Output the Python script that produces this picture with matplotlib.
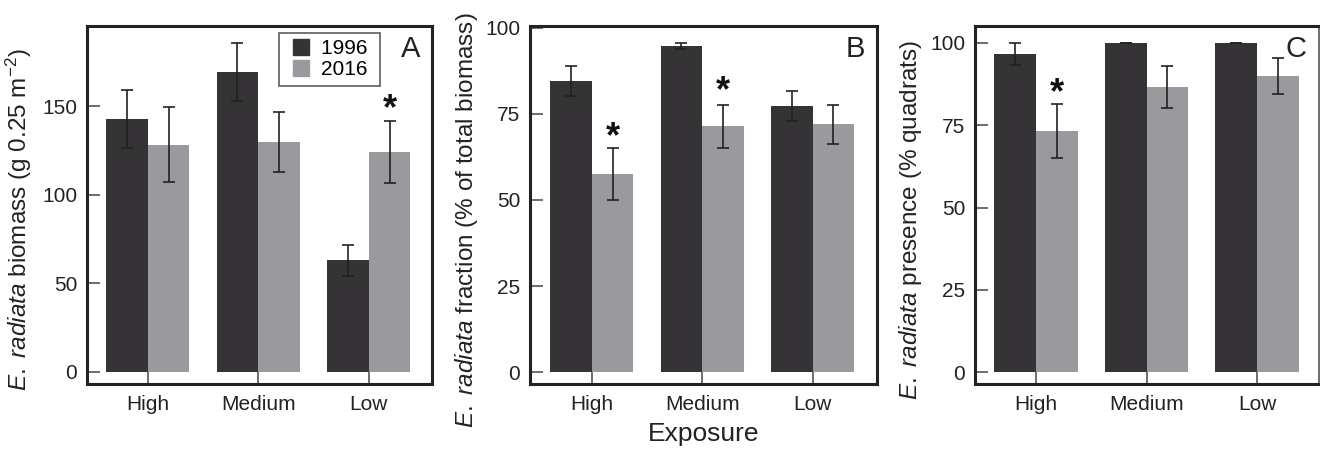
import matplotlib

matplotlib.use("Agg")
import matplotlib.pyplot as plt
import numpy as np
from matplotlib.lines import Line2D

plt.rcParams["font.family"] = ["Liberation Sans", "DejaVu Sans"]
plt.rcParams["mathtext.fontset"] = "custom"
plt.rcParams["mathtext.rm"] = "Liberation Sans"
plt.rcParams["mathtext.it"] = "Liberation Sans:italic"

CATEGORIES = ["High", "Medium", "Low"]
YEARS = ["1996", "2016"]

# Panel A: biomass (g 0.25 m-2)
biomass_1996 = [143, 169.5, 63]
biomass_1996_err = [16.5, 16.5, 9]
biomass_2016 = [128.5, 130, 124.3]
biomass_2016_err = [21, 17, 17.5]

# Panel B: fraction of total biomass (%)
fraction_1996 = [84.6, 94.7, 77.2]
fraction_1996_err = [4.3, 1.0, 4.3]
fraction_2016 = [57.5, 71.4, 72.0]
fraction_2016_err = [7.5, 6.2, 5.7]

# Panel C: presence (% quadrats)
presence_1996 = [96.6, 100, 100]
presence_1996_err = [3.3, 0, 0]
presence_2016 = [73.3, 86.6, 89.9]
presence_2016_err = [8.2, 6.3, 5.5]

DARK = "#363337"
LIGHT = "#9a999d"
W = 0.377

fig = plt.figure(figsize=(13.2, 4.5), dpi=100)

panels = [
    dict(rect=[87 / 1320, 0.1467, 345 / 1320, 0.7956], v1=biomass_1996, e1=biomass_1996_err,
         v2=biomass_2016, e2=biomass_2016_err, ylim=(-6.8, 195.5), yticks=[0, 50, 100, 150],
         ylabel=r"$\mathit{E.\ radiata}$ biomass (g 0.25 m$^{-2}$)", letter="A",
         stars=[(2, 0.5, 148)], xlim=(-0.55, 2.573), labx=-0.154),
    dict(rect=[530 / 1320, 0.1467, 346.7 / 1320, 0.7956], v1=fraction_1996, e1=fraction_1996_err,
         v2=fraction_2016, e2=fraction_2016_err, ylim=(-3.4, 100.5), yticks=[0, 25, 50, 75, 100],
         ylabel=r"$\mathit{E.\ radiata}$ fraction (% of total biomass)", letter="B",
         stars=[(0, 0.5, 68), (1, 0.5, 81.5)], xlim=(-0.56, 2.58), labx=-0.144),
    dict(rect=[975 / 1320, 0.1467, 344 / 1320, 0.7956], v1=presence_1996, e1=presence_1996_err,
         v2=presence_2016, e2=presence_2016_err, ylim=(-3.55, 105.1), yticks=[0, 25, 50, 75, 100],
         ylabel=r"$\mathit{E.\ radiata}$ presence (% quadrats)", letter="C",
         stars=[(0, 0.5, 84.5)], xlim=(-0.552, 2.56), labx=-0.148),
]

x = np.arange(len(CATEGORIES))
for p in panels:
    ax = fig.add_axes(p["rect"])
    err_kw = dict(ecolor="#222222", elinewidth=1.2, capsize=4.2, capthick=1.2)
    ax.bar(x - W / 2, p["v1"], W, yerr=p["e1"], color=DARK, error_kw=err_kw)
    ax.bar(x + W / 2, p["v2"], W, yerr=p["e2"], color=LIGHT, error_kw=err_kw)
    for idx, off, yv in p["stars"]:
        ax.text(x[idx] + off * W, yv, "*", ha="center", va="center", fontsize=26,
                fontweight="bold", color="#111111")
    ax.set_xlim(*p["xlim"])
    ax.set_ylim(*p["ylim"])
    ax.set_yticks(p["yticks"])
    ax.set_xticks(x)
    ax.set_xticklabels(CATEGORIES)
    ax.tick_params(axis="both", direction="in", length=9, width=1.2, color="#555555",
                   labelsize=15, labelcolor="#222222")
    ax.tick_params(axis="y", pad=7)
    ax.tick_params(axis="x", pad=8)
    for s in ["left", "bottom", "top"]:
        ax.spines[s].set_linewidth(2.2)
        ax.spines[s].set_color("#222222")
    ax.spines["right"].set_linewidth(2.2 if p["letter"] != "C" else 1.2)
    ax.spines["right"].set_color("#222222" if p["letter"] != "C" else "#555555")
    ax.set_ylabel(p["ylabel"], fontsize=17.5, color="#222222")
    ax.yaxis.set_label_coords(p["labx"], 0.458)
    ax.text(0.965, 0.935, p["letter"], transform=ax.transAxes, ha="right", va="center",
            fontsize=21, color="#222222")
    if p["letter"] == "A":
        handles = [Line2D([], [], ls="none", marker="s", markersize=12, color=c, mec=c)
                   for c in (DARK, LIGHT)]
        leg = ax.legend(handles, [y + " " for y in YEARS], loc="upper left",
                        bbox_to_anchor=(0.5557, 0.98), fontsize=15, frameon=True,
                        fancybox=False, edgecolor="#333333", handlelength=1.5,
                        handletextpad=0.25, borderpad=0.3, labelspacing=0.1,
                        borderaxespad=0.0)
        leg.get_frame().set_linewidth(1.2)
    if p["letter"] == "B":
        ax.set_xlabel("Exposure", fontsize=19, color="#222222", labelpad=6)

fig.savefig("out.png", dpi=100)
